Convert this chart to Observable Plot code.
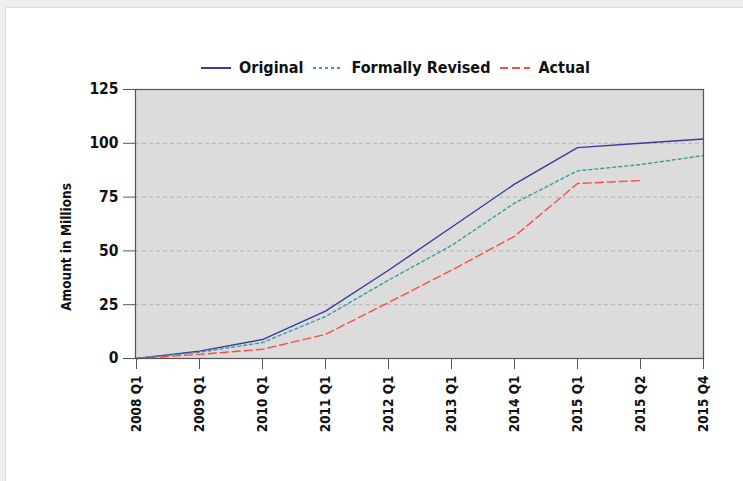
<!DOCTYPE html>
<html>
<head>
<meta charset="utf-8">
<script src="https://cdn.jsdelivr.net/npm/d3@7"></script>
<script src="https://cdn.jsdelivr.net/npm/@observablehq/plot@0.6"></script>
<style>
  html, body { margin: 0; padding: 0; width: 743px; height: 481px; overflow: hidden; background: #eeeeee; }
  #panel { position: absolute; left: 5px; top: 7px; width: 738px; height: 474px; background: #ffffff; border-left: 1px solid #dddddd; border-top: 1px solid #dddddd; }
  #chart { position: absolute; left: 0; top: 0; }
  #legend { position: absolute; left: 0; top: 58px; width: 791px; display: flex; justify-content: center; align-items: center;
            font-family: "DejaVu Sans Condensed", "DejaVu Sans", sans-serif; font-stretch: condensed; font-weight: bold; font-size: 16px; color: #111; white-space: nowrap; }
  .item { display: flex; align-items: center; margin: 0 5px; }
  .item svg { margin-right: 8px; }
  #ytitle { position: absolute; left: 66px; top: 247px; transform: translate(-50%, -50%) rotate(-90deg);
            font-family: "DejaVu Sans Condensed", "DejaVu Sans", sans-serif; font-stretch: condensed; font-weight: bold; font-size: 13.5px; color: #111; white-space: nowrap; }
</style>
</head>
<body>
<div id="panel"></div>
<div id="chart"></div>
<div id="legend"></div>
<div id="ytitle">Amount in Millions</div>
<script>
const quarters = ["2008 Q1","2009 Q1","2010 Q1","2011 Q1","2012 Q1","2013 Q1","2014 Q1","2015 Q1","2015 Q2","2015 Q4"];
const original = [0, 3.4, 8.8, 22.0, 41.0, 61.0, 81.0, 98.0, 100.0, 102.0];
const revised  = [0, 2.9, 7.4, 19.5, 36.4, 52.5, 72.2, 87.2, 90.1, 94.3];
const actual   = [0, 1.9, 4.3, 11.2, 26.0, 41.0, 56.8, 81.3, 82.7, null];
const seriesNames = ["Original", "Formally Revised", "Actual"];
const seriesColors = ["#3b3b9e", "#3a9c9c", "#ff4a4a"];
const seriesDash = [null, "3,3", "8,4"];
const yTicks = [0, 25, 50, 75, 100, 125];

const seriesValues = [original, revised, actual];
const rows = [];
seriesNames.forEach((name, i) => {
  quarters.forEach((q, j) => {
    const v = seriesValues[i][j];
    if (v !== null && v !== undefined) rows.push({series: name, quarter: q, value: v});
  });
});

const lineMarks = seriesNames.map((name, i) =>
  Plot.line(rows.filter(d => d.series === name), {
    x: "quarter", y: "value",
    stroke: seriesColors[i],
    strokeWidth: 1.4,
    strokeDasharray: seriesDash[i] || undefined
  })
);

const fontFam = "'DejaVu Sans Condensed', 'DejaVu Sans', sans-serif";

const chart = Plot.plot({
  width: 743,
  height: 481,
  marginLeft: 135,
  marginRight: 40,
  marginTop: 89,
  marginBottom: 123,
  style: { fontFamily: fontFam, fontWeight: "bold", fontStretch: "condensed", background: "transparent", color: "#111" },
  x: { type: "point", domain: quarters, padding: 0 },
  y: { domain: [0, 125] },
  marks: [
    Plot.frame({ fill: "#dcdcdc", stroke: null }),
    Plot.gridY({ ticks: yTicks.filter(t => t > 0 && t < 125), stroke: "#b4b4b4", strokeOpacity: 1, strokeDasharray: "4,3" }),
    ...lineMarks,
    Plot.frame({ stroke: "#555555", strokeWidth: 1.2 }),
    Plot.axisY({ ticks: yTicks, tickSize: 12, tickPadding: 5, label: null, fontSize: 15.5, stroke: "#555" }),
    Plot.axisX({ tickRotate: -90, tickSize: 11, tickPadding: 6, label: null, fontSize: 13.5, stroke: "#555" })
  ]
});
document.getElementById("chart").appendChild(chart);

const legend = document.getElementById("legend");
seriesNames.forEach((name, i) => {
  const item = document.createElement("div");
  item.className = "item";
  const ns = "http://www.w3.org/2000/svg";
  const svg = document.createElementNS(ns, "svg");
  svg.setAttribute("width", 30);
  svg.setAttribute("height", 10);
  const ln = document.createElementNS(ns, "line");
  ln.setAttribute("x1", 0); ln.setAttribute("x2", 30);
  ln.setAttribute("y1", 5); ln.setAttribute("y2", 5);
  ln.setAttribute("stroke", seriesColors[i]);
  ln.setAttribute("stroke-width", 2);
  if (seriesDash[i]) ln.setAttribute("stroke-dasharray", seriesDash[i]);
  svg.appendChild(ln);
  item.appendChild(svg);
  const t = document.createElement("span");
  t.textContent = name;
  item.appendChild(t);
  legend.appendChild(item);
});
</script>
</body>
</html>
